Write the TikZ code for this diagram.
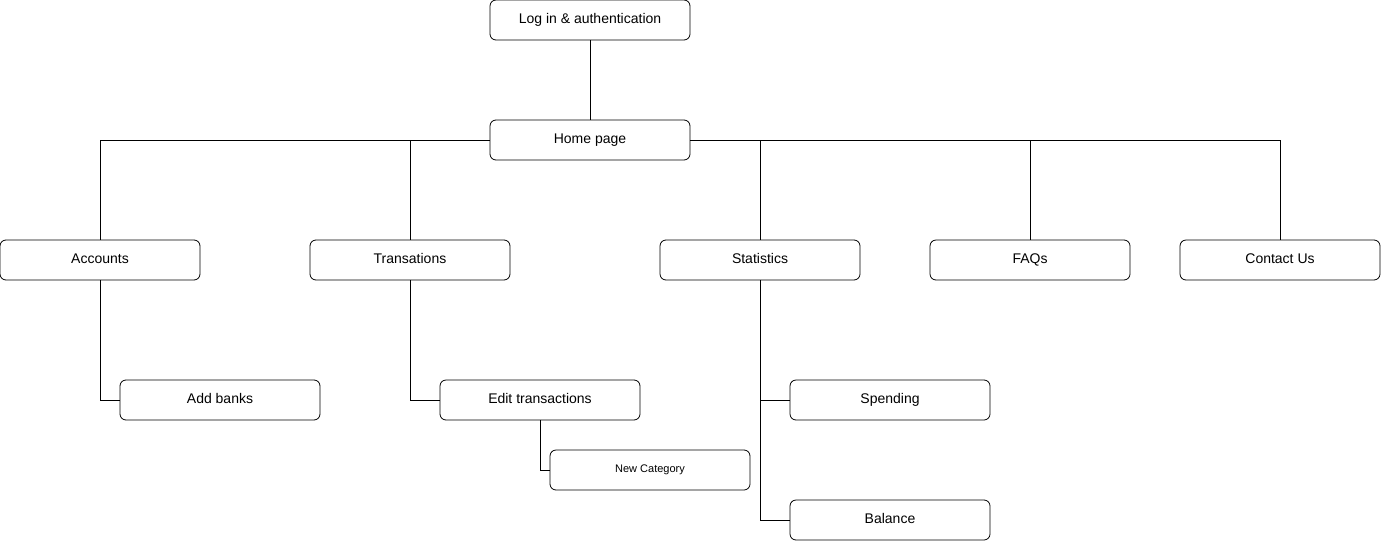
\documentclass[tikz,border=0pt]{standalone}
\usepackage{fontspec}
\setmainfont{Liberation Sans}
\begin{document}
\begin{tikzpicture}[x=1pt,y=-1pt,
  pagebox/.style={draw=black,line width=0.8pt,rounded corners=6pt,minimum width=200pt,minimum height=40pt,inner sep=0pt,text height=10pt,text depth=3pt,font=\fontsize{14}{16}\selectfont,fill=white},
  smallbox/.style={pagebox,text height=8pt,text depth=2.5pt,font=\fontsize{11}{13}\selectfont},
  link/.style={draw=black,line width=0.8pt}]
\useasboundingbox (0,0) rectangle (1381,541);
\node[pagebox] (login) at (590,20) {Log in \& authentication};
\node[pagebox] (home) at (590,140) {Home page};
\node[pagebox] (acc) at (100,260) {Accounts};
\node[pagebox] (trans) at (410,260) {Transations};
\node[pagebox] (stats) at (760,260) {Statistics};
\node[pagebox] (faq) at (1030,260) {FAQs};
\node[pagebox] (contact) at (1280,260) {Contact Us};
\node[pagebox] (banks) at (220,400) {Add banks};
\node[pagebox] (edit) at (540,400) {Edit transactions};
\node[smallbox] (newcat) at (650,470) {New Category};
\node[pagebox] (spend) at (890,400) {Spending};
\node[pagebox] (bal) at (890,520) {Balance};
\draw[link] (login.south) -- (home.north);
\draw[link] (home.west) -| (acc.north);
\draw[link] (home.west) -| (trans.north);
\draw[link] (home.east) -| (stats.north);
\draw[link] (home.east) -| (faq.north);
\draw[link] (home.east) -| (contact.north);
\draw[link] (acc.south) |- (banks.west);
\draw[link] (trans.south) |- (edit.west);
\draw[link] (edit.south) |- (newcat.west);
\draw[link] (stats.south) |- (spend.west);
\draw[link] (stats.south) |- (bal.west);
\end{tikzpicture}
\end{document}
